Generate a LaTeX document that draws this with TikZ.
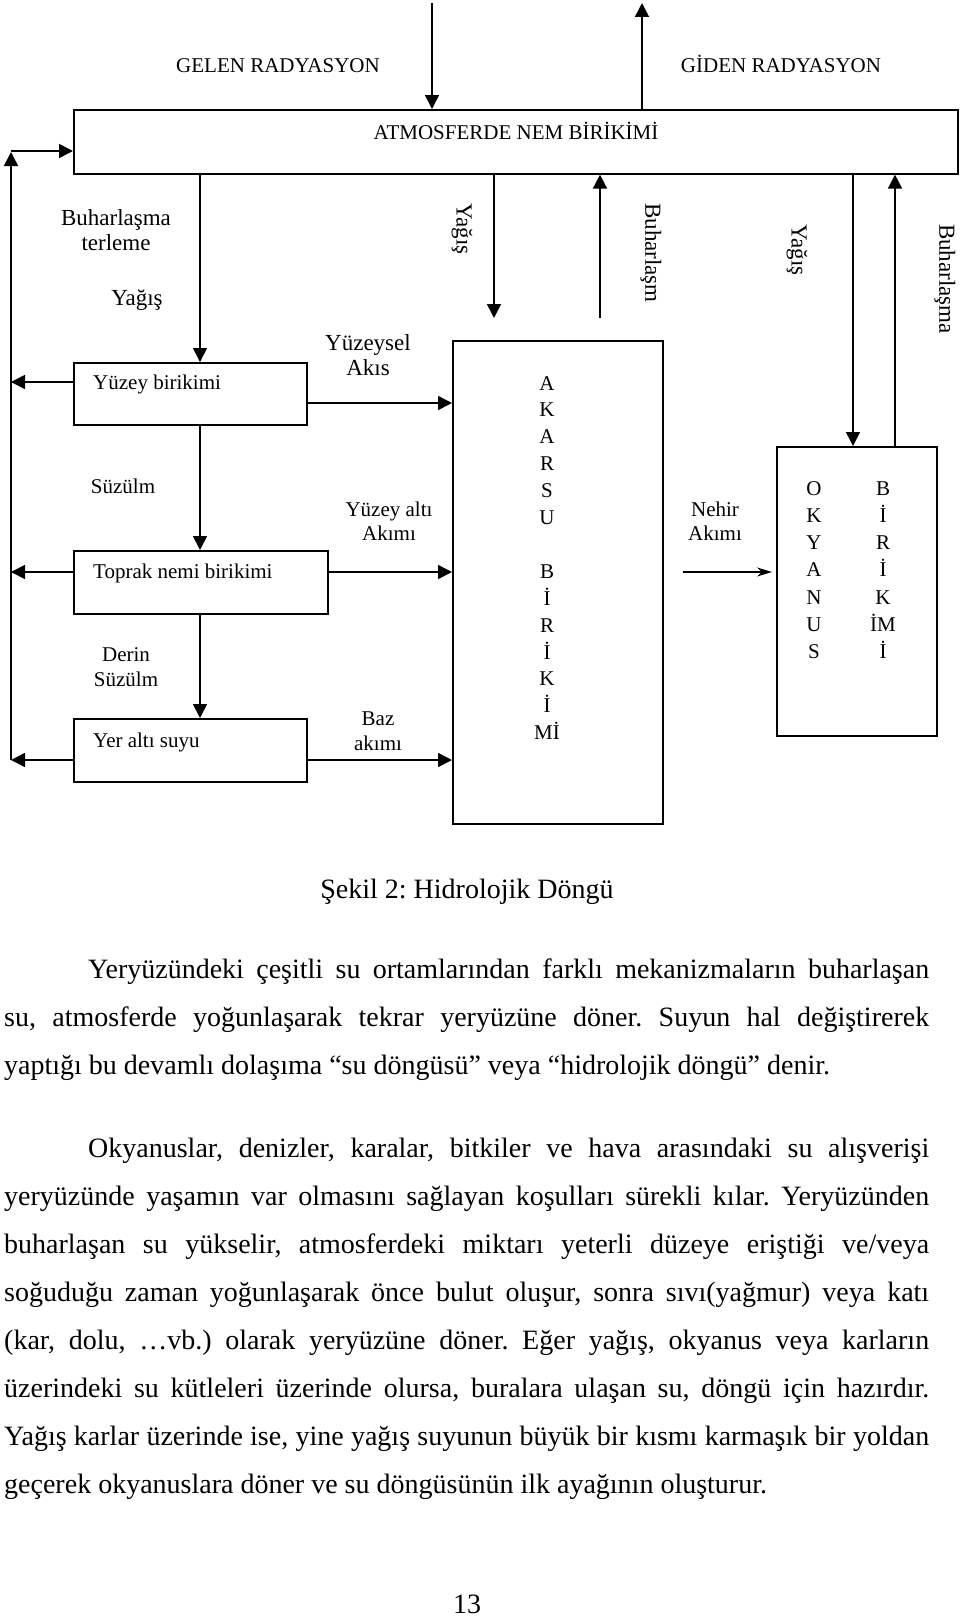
\documentclass[tikz,border=0pt]{standalone}
\usepackage{fontspec}
\setmainfont{Liberation Serif}
\usetikzlibrary{arrows.meta}
\frenchspacing
\begin{document}
\begin{tikzpicture}[x=1pt,y=-1pt,
  box/.style={draw, line width=1.6pt, inner sep=0pt, anchor=north west},
  lbl/.style={font=\fontsize{21}{24.5}\selectfont, inner sep=0pt, align=center},
  biglbl/.style={lbl, font=\fontsize{23}{25.5}\selectfont},
  flow/.style={line width=1.6pt, -{Triangle[length=14pt,width=14pt]}},
  thinflow/.style={line width=1.2pt, -{Stealth[length=15pt,width=9pt]}},
  body/.style={font=\fontsize{28}{34}\selectfont\frenchspacing, inner sep=0pt, anchor=base west}]
\useasboundingbox (0,0) rectangle (960,1619);
\fill[white] (0,0) rectangle (960,1619);

% ---------- boxes ----------
\node[box, minimum width=884pt, minimum height=64pt] (atm) at (73,109) {};
\node[box, minimum width=233pt, minimum height=62pt] (yb) at (73,362) {};
\node[box, minimum width=254pt, minimum height=63pt] (tn) at (73,550) {};
\node[box, minimum width=233pt, minimum height=63pt] (ya) at (73,718) {};
\node[box, minimum width=210pt, minimum height=483pt] (ak) at (452,340) {};
\node[box, minimum width=160pt, minimum height=289pt] (ok) at (776,446) {};

% ---------- box texts ----------
\node[lbl, anchor=base] (atmt) at (516,139) {ATMOSFERDE NEM BİRİKİMİ};
\node[lbl, anchor=base west] (ybt) at (93,389) {Yüzey birikimi};
\node[lbl, anchor=base west] (tnt) at (93,578) {Toprak nemi birikimi};
\node[lbl, anchor=base west] (yat) at (93,747) {Yer altı suyu};
\foreach \l/\r in {A/0,K/1,A/2,R/3,S/4,U/5,B/7,İ/8,R/9,İ/10,K/11,İ/12,Mİ/13}
  \node[lbl, anchor=base] (ak\r) at (547,390+\r*26.9) {\l};
\foreach \l/\r in {O/0,K/1,Y/2,A/3,N/4,U/5,S/6}
  \node[lbl, anchor=base] (oka\r) at (814,495+\r*27.3) {\l};
\foreach \l/\r in {B/0,İ/1,R/2,İ/3,K/4,İM/5,İ/6}
  \node[lbl, anchor=base] (okb\r) at (883,495+\r*27.3) {\l};

% ---------- labels ----------
\node[lbl, anchor=base] (gelen) at (278,73) {GELEN RADYASYON};
\node[lbl, anchor=base] (giden) at (781,73) {GİDEN RADYASYON};
\node[biglbl] (bt) at (116,230) {Buharlaşma\\terleme};
\node[biglbl, anchor=base] (yg1) at (137,305) {Yağış};
\node[biglbl] (ysa) at (368,355) {Yüzeysel\\Akıs};
\node[biglbl, rotate=-90] (yg2) at (462,229) {Yağış};
\node[biglbl, rotate=-90] (bh1) at (651,253) {Buharlaşm};
\node[biglbl, rotate=-90] (yg3) at (797,250) {Yağış};
\node[biglbl, rotate=-90] (bh2) at (945,279) {Buharlaşma};
\node[lbl, anchor=base] (suz) at (123,493) {Süzülm};
\node[lbl] (yaa) at (389,521) {Yüzey altı\\Akımı};
\node[lbl] (ds) at (126,667) {Derin\\Süzülm};
\node[lbl] (baz) at (378,731) {Baz\\akımı};
\node[lbl] (neh) at (715,521) {Nehir\\Akımı};

% ---------- helper coordinates ----------
\coordinate (radin) at (432,3);
\coordinate (radout) at (642,3);
\coordinate (cl) at (200,0);
\coordinate (yagend) at (494,318);
\coordinate (buhstart) at (600,318);
\coordinate (co1) at (853,0);
\coordinate (co2) at (895,0);
\coordinate (lc) at (11,151);
\coordinate (lb) at (11,760);
\coordinate (r1) at (0,382);
\coordinate (r1b) at (0,403);
\coordinate (r2) at (0,572);
\coordinate (r3) at (0,760);
\coordinate (nst) at (683,572);
\coordinate (nend) at (772,572);

% ---------- connectors ----------
\draw[flow] (radin) -- (radin |- atm.north);
\draw[flow] (radout |- atm.north) -- (radout);
\draw[flow] (cl |- atm.south) -- (cl |- yb.north);
\draw[flow] (cl |- yb.south) -- (cl |- tn.north);
\draw[flow] (cl |- tn.south) -- (cl |- ya.north);
\draw[flow] (yagend |- atm.south) -- (yagend);
\draw[flow] (buhstart) -- (buhstart |- atm.south);
\draw[flow] (co1 |- atm.south) -- (co1 |- ok.north);
\draw[flow] (co2 |- ok.north) -- (co2 |- atm.south);
% left return loop
\draw[flow] (lb) -- ([yshift=-1pt]lc);
\draw[flow] (lc) -- (lc -| atm.west);
\draw[flow] (yb.west |- r1) -- (lc |- r1);
\draw[flow] (tn.west |- r2) -- (lc |- r2);
\draw[flow] (ya.west |- r3) -- (lc |- r3);
% to river storage
\draw[flow] (yb.east |- r1b) -- (ak.west |- r1b);
\draw[flow] (tn.east |- r2) -- (ak.west |- r2);
\draw[flow] (ya.east |- r3) -- (ak.west |- r3);
% river flow
\draw[thinflow] (nst) -- (nend);

% ---------- caption and body text ----------
\node[body, anchor=base] (cap) at (467,898) {Şekil 2: Hidrolojik Döngü};
\node[body] (p1a) at (88,978) {\makebox[841pt][s]{Yeryüzündeki çeşitli su ortamlarından farklı mekanizmaların buharlaşan}};
\node[body] (p1b) at (4,1026) {\makebox[925pt][s]{su, atmosferde yoğunlaşarak tekrar yeryüzüne döner. Suyun hal değiştirerek}};
\node[body] (p1c) at (4,1074) {yaptığı bu devamlı dolaşıma “su döngüsü” veya “hidrolojik döngü” denir.};
\node[body] (p2a) at (88,1157) {\makebox[841pt][s]{Okyanuslar, denizler, karalar, bitkiler ve hava arasındaki su alışverişi}};
\node[body] (p2b) at (4,1205) {\makebox[925pt][s]{yeryüzünde yaşamın var olmasını sağlayan koşulları sürekli kılar. Yeryüzünden}};
\node[body] (p2c) at (4,1253) {\makebox[925pt][s]{buharlaşan su yükselir, atmosferdeki miktarı yeterli düzeye eriştiği ve/veya}};
\node[body] (p2d) at (4,1301) {\makebox[925pt][s]{soğuduğu zaman yoğunlaşarak önce bulut oluşur, sonra sıvı(yağmur) veya katı}};
\node[body] (p2e) at (4,1349) {\makebox[925pt][s]{(kar, dolu, …vb.) olarak yeryüzüne döner. Eğer yağış, okyanus veya karların}};
\node[body] (p2f) at (4,1397) {\makebox[925pt][s]{üzerindeki su kütleleri üzerinde olursa, buralara ulaşan su, döngü için hazırdır.}};
\node[body] (p2g) at (4,1445) {\makebox[925pt][s]{Yağış karlar üzerinde ise, yine yağış suyunun büyük bir kısmı karmaşık bir yoldan}};
\node[body] (p2h) at (4,1493) {geçerek okyanuslara döner ve su döngüsünün ilk ayağının oluşturur.};
\node[body, anchor=base] (pg) at (467,1613) {13};
\end{tikzpicture}
\end{document}
